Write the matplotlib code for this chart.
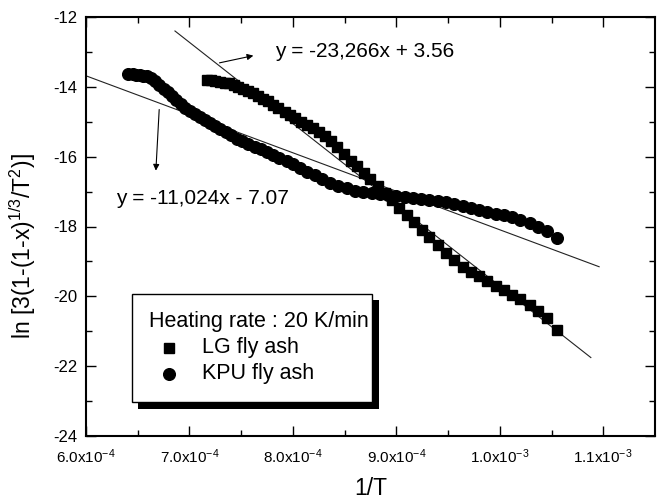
import numpy as np
import matplotlib.pyplot as plt

plt.rcParams['font.family'] = ['Liberation Sans', 'DejaVu Sans']
plt.rcParams['mathtext.fontset'] = 'custom'
plt.rcParams['mathtext.rm'] = 'Liberation Sans'
plt.rcParams['mathtext.default'] = 'regular'

# 1/T in units of 1e-4 K^-1
lg_invT = [7.17, 7.21, 7.25, 7.30, 7.34, 7.38, 7.43, 7.47, 7.52, 7.57,
           7.61, 7.66, 7.71, 7.76, 7.81, 7.86, 7.92, 7.97, 8.02, 8.08,
           8.14, 8.19, 8.25, 8.31, 8.37, 8.43, 8.49, 8.56, 8.62, 8.69,
           8.75, 8.82, 8.89, 8.96, 9.03, 9.10, 9.17, 9.25, 9.32, 9.40,
           9.48, 9.56, 9.64, 9.72, 9.80, 9.88, 9.96, 10.04, 10.12, 10.20,
           10.29, 10.37, 10.46, 10.55]
lg_y = [-13.80, -13.81, -13.83, -13.85, -13.88, -13.90, -13.95, -14.00, -14.07, -14.13,
        -14.19, -14.26, -14.34, -14.42, -14.52, -14.61, -14.72, -14.80, -14.89, -15.00,
        -15.10, -15.19, -15.30, -15.42, -15.56, -15.73, -15.91, -16.11, -16.28, -16.47,
        -16.64, -16.83, -17.04, -17.25, -17.46, -17.67, -17.88, -18.11, -18.31, -18.54,
        -18.77, -18.97, -19.15, -19.29, -19.43, -19.57, -19.71, -19.83, -19.96, -20.09,
        -20.25, -20.43, -20.63, -20.97]

kpu_invT = [6.41, 6.45, 6.48, 6.52, 6.55, 6.59, 6.63, 6.67, 6.71, 6.75,
            6.79, 6.83, 6.87, 6.92, 6.96, 7.01, 7.05, 7.10, 7.15, 7.20,
            7.25, 7.30, 7.35, 7.40, 7.46, 7.51, 7.57, 7.63, 7.69, 7.75,
            7.81, 7.87, 7.94, 8.00, 8.07, 8.14, 8.21, 8.28, 8.36, 8.44,
            8.52, 8.60, 8.68, 8.76, 8.84, 8.92, 9.00, 9.08, 9.16, 9.24,
            9.32, 9.40, 9.48, 9.56, 9.64, 9.72, 9.80, 9.88, 9.96, 10.04,
            10.12, 10.20, 10.29, 10.37, 10.46, 10.55]
kpu_y = [-13.62, -13.64, -13.65, -13.66, -13.68, -13.70, -13.76, -13.84, -13.94, -14.05,
         -14.15, -14.26, -14.37, -14.50, -14.60, -14.69, -14.77, -14.86, -14.95, -15.04,
         -15.13, -15.21, -15.30, -15.39, -15.50, -15.56, -15.65, -15.72, -15.79, -15.86,
         -15.95, -16.03, -16.13, -16.22, -16.33, -16.43, -16.53, -16.64, -16.76, -16.84,
         -16.91, -16.98, -17.02, -17.05, -17.07, -17.10, -17.13, -17.15, -17.17, -17.20,
         -17.23, -17.26, -17.30, -17.35, -17.40, -17.47, -17.53, -17.58, -17.63, -17.68,
         -17.73, -17.80, -17.91, -18.01, -18.14, -18.32]

# linear fits: slope, intercept, x range of the drawn line
lg_fit = (-23266, 3.56, 6.86e-4, 1.088e-3)
kpu_fit = (-11024, -7.07, 6.0e-4, 1.096e-3)

x_ticks = [6e-4, 7e-4, 8e-4, 9e-4, 1.0e-3, 1.1e-3]
x_labels = [r'6.0x10$^{-4}$', r'7.0x10$^{-4}$', r'8.0x10$^{-4}$', r'9.0x10$^{-4}$',
            r'1.0x10$^{-3}$', r'1.1x10$^{-3}$']
y_ticks = [-24, -22, -20, -18, -16, -14, -12]

fig = plt.figure(figsize=(6.61, 5), dpi=100)
ax = fig.add_axes([0.1301, 0.128, 0.8608, 0.838])

lg_x = np.array(lg_invT) * 1e-4
kpu_x = np.array(kpu_invT) * 1e-4

for slope, icpt, x0, x1 in (lg_fit, kpu_fit):
    xx = np.array([x0, x1])
    ax.plot(xx, slope * xx + icpt, color='#222222', linewidth=0.8, zorder=2)

ax.plot(lg_x, lg_y, linestyle='none', marker='s', markersize=7.2,
        color='black', zorder=3)
ax.plot(kpu_x, kpu_y, linestyle='none', marker='o', markersize=8.4,
        color='black', zorder=3)

# equation labels with arrows
arrow = dict(arrowstyle='-|>', color='black', linewidth=0.8, mutation_scale=9)
ax.annotate('', xy=(7.644e-4, -13.09), xytext=(7.264e-4, -13.33), arrowprops=arrow)
ax.annotate('', xy=(6.674e-4, -16.48), xytext=(6.709e-4, -14.57), arrowprops=arrow)
ax.text(7.828e-4, -13.0, 'y = -23,266x + 3.56', fontsize=15, va='center', ha='left')
ax.text(6.29e-4, -17.19, 'y = -11,024x - 7.07', fontsize=15, va='center', ha='left')

# legend box with solid drop shadow
shadow = plt.Rectangle((0.0914, 0.0644), 0.4236, 0.2602, transform=ax.transAxes,
                       facecolor='black', edgecolor='none', zorder=4)
box = plt.Rectangle((0.0808, 0.0811), 0.4218, 0.2578, transform=ax.transAxes,
                    facecolor='white', edgecolor='black', linewidth=1.0, zorder=5)
ax.add_patch(shadow)
ax.add_patch(box)
ax.text(0.1107, 0.2728, 'Heating rate : 20 K/min', transform=ax.transAxes,
        fontsize=15.5, va='center', ha='left', zorder=6)
ax.plot([0.1459], [0.2107], transform=ax.transAxes, marker='s', markersize=7.2,
        color='black', linestyle='none', zorder=6, clip_on=False)
ax.plot([0.1459], [0.148], transform=ax.transAxes, marker='o', markersize=8.4,
        color='black', linestyle='none', zorder=6, clip_on=False)
ax.text(0.2033, 0.2107, 'LG fly ash', transform=ax.transAxes,
        fontsize=15.5, va='center', ha='left', zorder=6)
ax.text(0.2033, 0.148, 'KPU fly ash', transform=ax.transAxes,
        fontsize=15.5, va='center', ha='left', zorder=6)

ax.set_xlim(6e-4, 1.15e-3)
ax.set_ylim(-24, -12)
ax.set_xticks(x_ticks)
ax.set_xticklabels(x_labels, fontsize=11)
ax.set_xticks(np.arange(6.5e-4, 1.15e-3, 1e-4), minor=True)
ax.set_yticks(y_ticks)
ax.set_yticklabels([str(v) for v in y_ticks], fontsize=12)
ax.set_yticks(np.arange(-23, -12, 2), minor=True)

ax.tick_params(which='both', direction='in', top=True, right=True, width=1.0)
ax.tick_params(which='major', length=7)
ax.tick_params(which='minor', length=4)
ax.tick_params(axis='x', which='major', pad=8)
ax.tick_params(axis='y', which='major', pad=6)
for s in ax.spines.values():
    s.set_linewidth(1.5)

ax.set_xlabel('1/T', fontsize=16.5, labelpad=8)
ax.set_ylabel(r'ln [3(1-(1-x)$^{1/3}$/T$^2$)]', fontsize=16.5)
ax.yaxis.set_label_coords(-0.084, 0.4535)

plt.savefig('out.png', dpi=100)
